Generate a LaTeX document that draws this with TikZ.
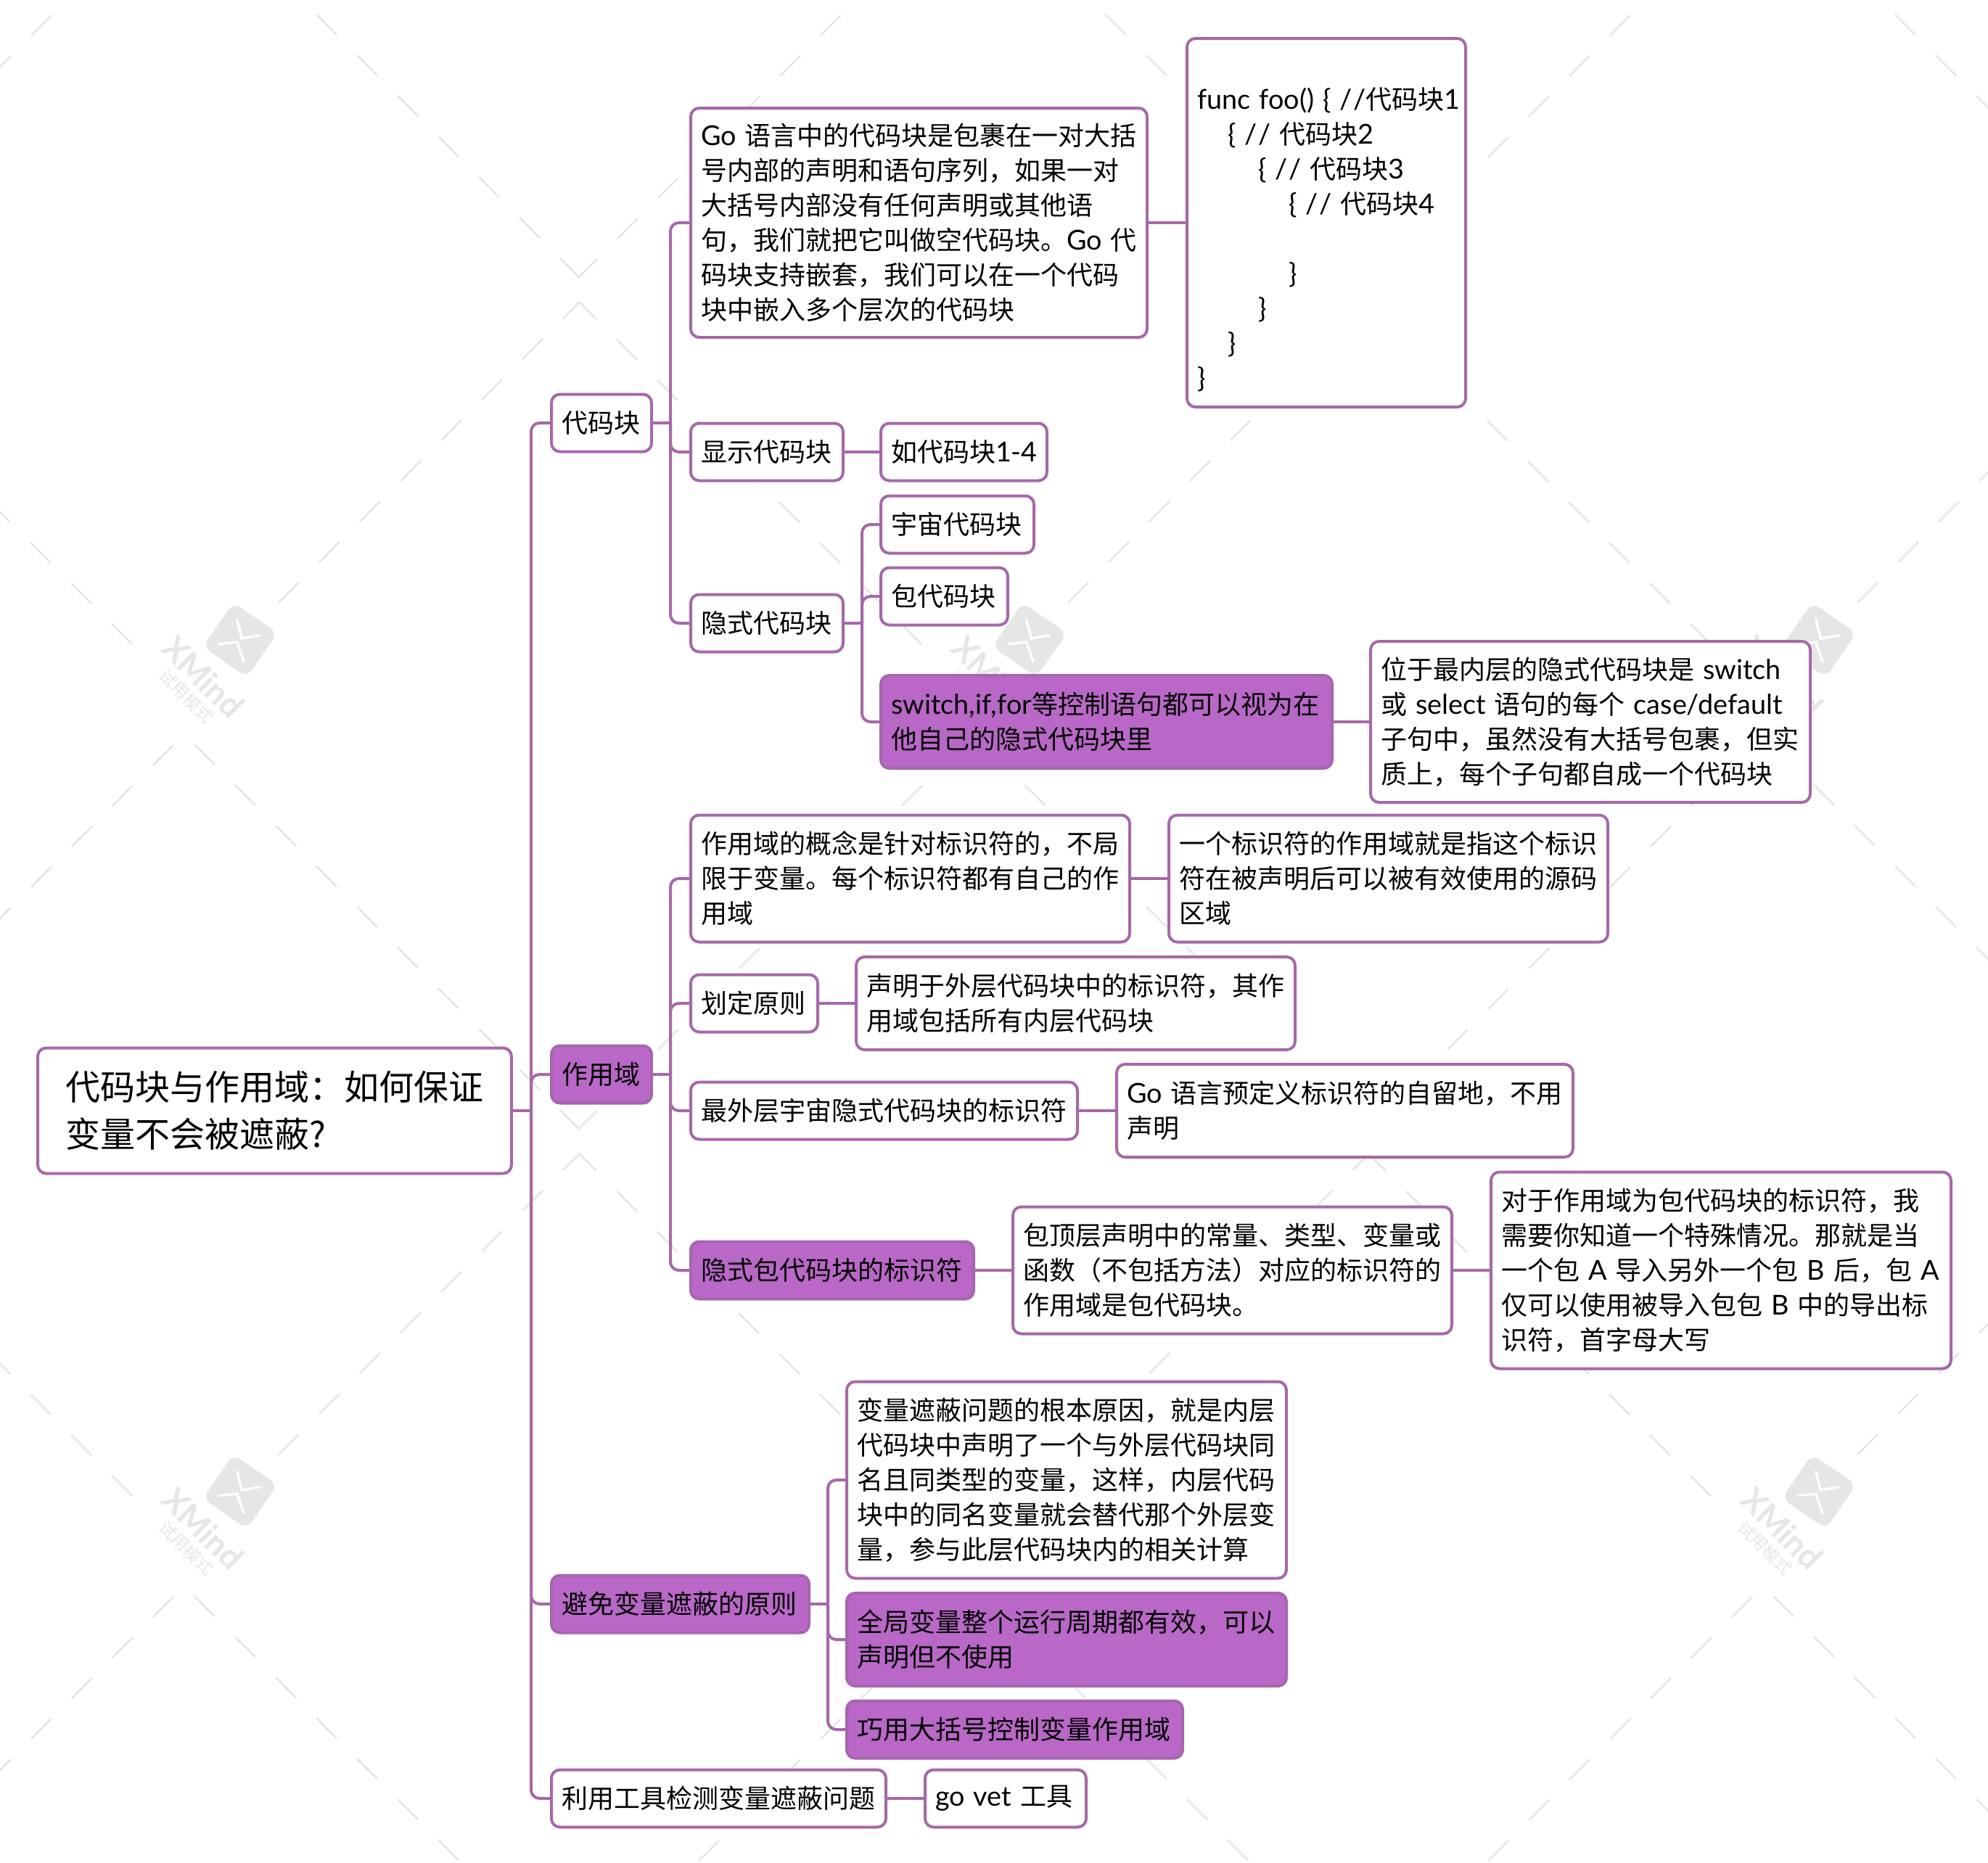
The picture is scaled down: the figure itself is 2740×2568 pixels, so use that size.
\documentclass[tikz,border=0pt]{standalone}
\usepackage{fontspec}
\setmainfont{Noto Sans CJK SC}
\newfontfamily\latinfont[Scale=1.05]{Lato}
\newcommand{\lat}[1]{{\latinfont #1}}
\definecolor{linepurple}{HTML}{A569A9}
\definecolor{hotpurple}{HTML}{B968C7}
\definecolor{hotborder}{HTML}{A566AD}
\definecolor{wmgray}{HTML}{E6E6E6}
\tikzset{
  topicbox/.style={draw=linepurple, fill=white, line width=1.2pt, rounded corners=3.5pt, anchor=west, outer sep=0pt,
    align=left, inner xsep=4.2pt, inner ysep=0pt, font=\fontsize{10.8}{14.4}\selectfont},
  hotbox/.style={topicbox, fill=hotpurple, draw=hotborder},
  rootbox/.style={topicbox, inner xsep=11.5pt, font=\fontsize{14.4}{19.4}\selectfont},
  boxsize/.style 2 args={text width={#1*0.3pt-8.4pt}, minimum height=#2*0.3pt},
  rootsize/.style 2 args={text width={#1*0.3pt-23pt}, minimum height=#2*0.3pt},
  conn/.style={draw=linepurple, line width=1.2pt, rounded corners=3.5pt},
  wmdash/.style={draw=wmgray, line width=.8pt, dash pattern=on 11.88pt off 11.88pt},
}
\begin{document}
\begin{tikzpicture}[x=0.3pt,y=-0.3pt]
\useasboundingbox (0,0) rectangle (2740,2568);
% watermark
\begin{scope}
\clip (0,0) rectangle (2740,2568);
\foreach \ti in {0,1,2}{
\foreach \tj in {-1,0,1}{
\begin{scope}[shift={(1088*\ti,1174*\tj)}]
\draw[wmdash] (182,888)--(-290,416);
\draw[wmdash] (384,831)--(798,417);
\draw[wmdash] (268,1026)--(798,1556);
\draw[wmdash] (239,1027)--(-291,1557);
\end{scope}
}}
\foreach \ti in {0,1,2}{
\foreach \tj in {0,1}{
\begin{scope}[shift={(1088*\ti,1174*\tj)}]
\fill[wmgray, rounded corners=3.5pt, rotate around={-34.5:(331,882)}] (294,845) rectangle (368,919);
\draw[white, line width=1pt, line cap=round] (326.7,854)--(333.3,880)--(358.3,875.7);
\draw[white, line width=1pt, line cap=round] (301.7,887.7)--(326.7,885)--(336,911.7);
\node[wmgray, rotate=-45, font=\latinfont\bfseries\fontsize{13}{14}\selectfont] (xm\ti\tj) at (280,933) {XMind};
\node[wmgray, rotate=-45, font=\fontsize{7}{8}\selectfont] (try\ti\tj) at (257,960) {试用模式};
\end{scope}
}}
\end{scope}
% root and first level
\node[rootbox, rootsize={653}{173}] (root) at (52,1531) {代码块与作用域：如何保证\\变量不会被遮蔽?};
\node[topicbox, boxsize={138}{79}] (block) at (760,583) {代码块};
\node[hotbox, boxsize={138}{79}] (scopes) at (760,1481) {作用域};
\node[hotbox, boxsize={355}{79}] (avoid) at (760,2211) {避免变量遮蔽的原则};
\node[topicbox, boxsize={461}{79}] (tool) at (760,2479) {利用工具检测变量遮蔽问题};
% code blocks
\node[topicbox, boxsize={629}{316}] (blockdef) at (952,307) {\lat{Go }语言中的代码块是包裹在一对大括\\号内部的声明和语句序列，如果一对\\大括号内部没有任何声明或其他语\\句，我们就把它叫做空代码块。\lat{Go }代\\码块支持嵌套，我们可以在一个代码\\块中嵌入多个层次的代码块};
\node[topicbox, boxsize={384}{508}] (blockcode) at (1636,307) {\mbox{}\\[8.4pt]
\mbox{\lat{func foo() \{ /\kern.6pt/}代码块\lat{1}}\\
\hspace*{12.6pt}\lat{\{ /\kern.6pt/ }代码块\lat{2}\\
\hspace*{25.2pt}\lat{\{ /\kern.6pt/ }代码块\lat{3}\\
\hspace*{37.8pt}\lat{\{ /\kern.6pt/ }代码块\lat{4}\\
\mbox{}\\
\hspace*{37.8pt}\lat{\}}\\
\hspace*{25.2pt}\lat{\}}\\
\hspace*{12.6pt}\lat{\}}\\
\lat{\}}};
\node[topicbox, boxsize={210}{79}] (explicit) at (952,623) {显示代码块};
\node[topicbox, boxsize={229}{79}] (explicitex) at (1214,623) {如代码块\mbox{\lat{1-4}}};
\node[topicbox, boxsize={210}{79}] (implicit) at (952,859) {隐式代码块};
\node[topicbox, boxsize={211}{79}] (universe) at (1214,723) {宇宙代码块};
\node[topicbox, boxsize={175}{79}] (package) at (1214,822) {包代码块};
\node[hotbox, boxsize={622}{128}] (control) at (1214,995) {\lat{switch,if,for}等控制语句都可以视为在\\他自己的隐式代码块里};
\node[topicbox, boxsize={606}{222}] (controlcase) at (1889,995) {位于最内层的隐式代码块是 \lat{switch}\\或 \lat{select} 语句的每个 \lat{case/default}\\子句中，虽然没有大括号包裹，但实\\质上，每个子句都自成一个代码块};
% scope
\node[topicbox, boxsize={605}{175}] (scopedef) at (952,1211) {作用域的概念是针对标识符的，不局\\限于变量。每个标识符都有自己的作\\用域};
\node[topicbox, boxsize={605}{175}] (scopenote) at (1611,1211) {一个标识符的作用域就是指这个标识\\符在被声明后可以被有效使用的源码\\区域};
\node[topicbox, boxsize={175}{79}] (rules) at (952,1383) {划定原则};
\node[topicbox, boxsize={605}{128}] (rulenote) at (1180,1383) {声明于外层代码块中的标识符，其作\\用域包括所有内层代码块};
\node[topicbox, boxsize={533}{79}] (outer) at (952,1531) {最外层宇宙隐式代码块的标识符};
\node[topicbox, boxsize={629}{128}] (outernote) at (1539,1531) {\lat{Go }语言预定义标识符的自留地，不用\\声明};
\node[hotbox, boxsize={390}{79}] (pkgid) at (952,1751) {隐式包代码块的标识符};
\node[topicbox, boxsize={605}{175}] (pkgtop) at (1396,1751) {包顶层声明中的常量、类型、变量或\\函数（不包括方法）对应的标识符的\\作用域是包代码块。};
\node[topicbox, boxsize={634}{271}] (pkgnote) at (2055,1751) {对于作用域为包代码块的标识符，我\\需要你知道一个特殊情况。那就是当\\一个包 \lat{A} 导入另外一个包 \lat{B} 后，包 \lat{A}\\仅可以使用被导入包包 \lat{B} 中的导出标\\识符，首字母大写};
% avoiding shadowing
\node[topicbox, boxsize={606}{271}] (cause) at (1167,2040) {变量遮蔽问题的根本原因，就是内层\\代码块中声明了一个与外层代码块同\\名且同类型的变量，这样，内层代码\\块中的同名变量就会替代那个外层变\\量，参与此层代码块内的相关计算};
\node[hotbox, boxsize={606}{128}] (globalvar) at (1167,2260) {全局变量整个运行周期都有效，可以\\声明但不使用};
\node[hotbox, boxsize={463}{79}] (braces) at (1167,2384) {巧用大括号控制变量作用域};
\node[topicbox, boxsize={222}{79}] (govet) at (1275,2479) {\lat{go vet }工具};
% connectors
\coordinate (rootbus) at (732,1531);
\coordinate (blockbus) at (924,583);
\coordinate (scopebus) at (924,1481);
\coordinate (avoidbus) at (1141,2211);
\coordinate (implicitbus) at (1188,859);
\draw[conn] (root.east)--(rootbus);
\draw[conn] (rootbus)|-(block.west);
\draw[conn] (rootbus)|-(scopes.west);
\draw[conn] (rootbus)|-(avoid.west);
\draw[conn] (rootbus)|-(tool.west);
\draw[conn] (block.east)--(blockbus);
\draw[conn] (blockbus)|-(blockdef.west);
\draw[conn] (blockbus)|-(explicit.west);
\draw[conn] (blockbus)|-(implicit.west);
\draw[conn] (blockdef.east)--(blockcode.west);
\draw[conn] (explicit.east)--(explicitex.west);
\draw[conn] (implicit.east)--(implicitbus);
\draw[conn] (implicitbus)|-(universe.west);
\draw[conn] (implicitbus)|-(package.west);
\draw[conn] (implicitbus)|-(control.west);
\draw[conn] (control.east)--(controlcase.west);
\draw[conn] (scopes.east)--(scopebus);
\draw[conn] (scopebus)|-(scopedef.west);
\draw[conn] (scopebus)|-(rules.west);
\draw[conn] (scopebus)|-(outer.west);
\draw[conn] (scopebus)|-(pkgid.west);
\draw[conn] (scopedef.east)--(scopenote.west);
\draw[conn] (rules.east)--(rulenote.west);
\draw[conn] (outer.east)--(outernote.west);
\draw[conn] (pkgid.east)--(pkgtop.west);
\draw[conn] (pkgtop.east)--(pkgnote.west);
\draw[conn] (avoid.east)--(avoidbus);
\draw[conn] (avoidbus)|-(cause.west);
\draw[conn] (avoidbus)|-(globalvar.west);
\draw[conn] (avoidbus)|-(braces.west);
\draw[conn] (tool.east)--(govet.west);
\end{tikzpicture}
\end{document}
